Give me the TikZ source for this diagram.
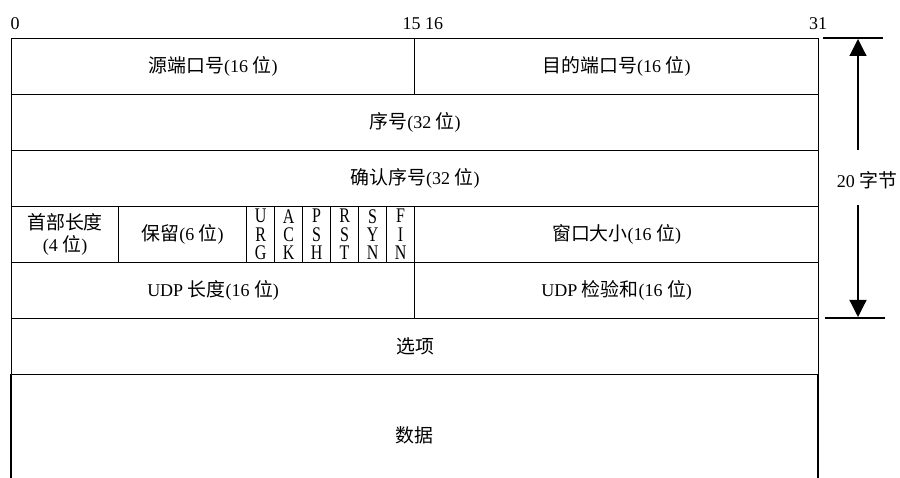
\documentclass[tikz,border=0pt]{standalone}
\usepackage{fontspec}
\usepackage{graphicx}
\setmainfont{Liberation Serif}
\newfontfamily\cjk[Scale=1.05]{Noto Sans CJK SC}
\newcommand{\zh}[1]{{\cjk #1}}
\newcommand{\flagtext}[3]{\scalebox{1}[1.3]{\vbox{\baselineskip=14.2pt\lineskiplimit=-20pt\halign{\hfil##\hfil\cr #1\cr #2\cr #3\cr}}}}
\usetikzlibrary{arrows.meta}
\begin{document}
\begin{tikzpicture}[x=1pt,y=-1pt, line width=1.2pt,
  font=\fontsize{18}{20}\selectfont,
  fld/.style={draw, rectangle, inner sep=0pt, anchor=north west, minimum height=56pt},
  flagbox/.style={fld, minimum width=28pt, font=\fontsize{16}{14.2}\selectfont},
  lbl/.style={inner sep=0pt},
  arr/.style={-{Triangle[width=17pt,length=17pt]}, line width=1.2pt}]
\useasboundingbox (0,0) rectangle (900,478);
% bit labels
\node[lbl, anchor=base] (b0) at (15,30) {0};
\node[lbl, anchor=base west] (b15) at (402,30) {15 16};
\node[lbl, anchor=base] (b31) at (818,30) {31};
% row 1
\node[fld, minimum width=403pt] (src) at (11,38) {\zh{源端口号}(16 \zh{位})};
\node[fld, minimum width=404pt] (dst) at (414,38) {\zh{目的端口号}(16 \zh{位})};
% row 2
\node[fld, minimum width=807pt] (seq) at (11,94) {\zh{序号}(32 \zh{位})};
% row 3
\node[fld, minimum width=807pt] (ack) at (11,150) {\zh{确认序号}(32 \zh{位})};
% row 4
\node[fld, minimum width=107pt, align=center, font=\fontsize{18}{22}\selectfont] (hlen) at (11,206) {\zh{首部长度}\\(4 \zh{位})};
\node[fld, minimum width=128pt] (rsv) at (118,206) {\zh{保留}(6 \zh{位})};
\node[flagbox] (urg) at (246,206) {\flagtext{U}{R}{G}};
\node[flagbox] (fack) at (274,206) {\flagtext{A}{C}{K}};
\node[flagbox] (psh) at (302,206) {\flagtext{P}{S}{H}};
\node[flagbox] (rst) at (330,206) {\flagtext{R}{S}{T}};
\node[flagbox] (syn) at (358,206) {\flagtext{S}{Y}{N}};
\node[flagbox] (fin) at (386,206) {\flagtext{F}{I}{N}};
\node[fld, minimum width=404pt] (win) at (414,206) {\zh{窗口大小}(16 \zh{位})};
% row 5
\node[fld, minimum width=403pt] (ulen) at (11,262) {UDP \zh{长度}(16 \zh{位})};
\node[fld, minimum width=404pt] (usum) at (414,262) {UDP \zh{检验和}(16 \zh{位})};
% row 6
\node[fld, minimum width=807pt] (opt) at (11,318) {\zh{选项}};
% data
\coordinate (dl) at (11,374);
\coordinate (dlb) at (11,478);
\coordinate (dr) at (818,374);
\coordinate (drb) at (818,478);
\draw (dl) -- (dlb);
\draw (dr) -- (drb);
\node[lbl] (data) at (414.5,435) {\zh{数据}};
% 20 bytes
\coordinate (t1) at (823,38);
\coordinate (t2) at (883,38);
\coordinate (u1) at (825,318);
\coordinate (u2) at (885,318);
\draw (t1) -- (t2);
\draw (u1) -- (u2);
\node[lbl] (len) at (867,180) {20 \zh{字节}};
\coordinate (a1) at (858,150);
\coordinate (a1t) at (858,39);
\coordinate (a2) at (858,205);
\coordinate (a2t) at (858,317);
\draw[arr] (a1) -- (a1t);
\draw[arr] (a2) -- (a2t);
\end{tikzpicture}
\end{document}
